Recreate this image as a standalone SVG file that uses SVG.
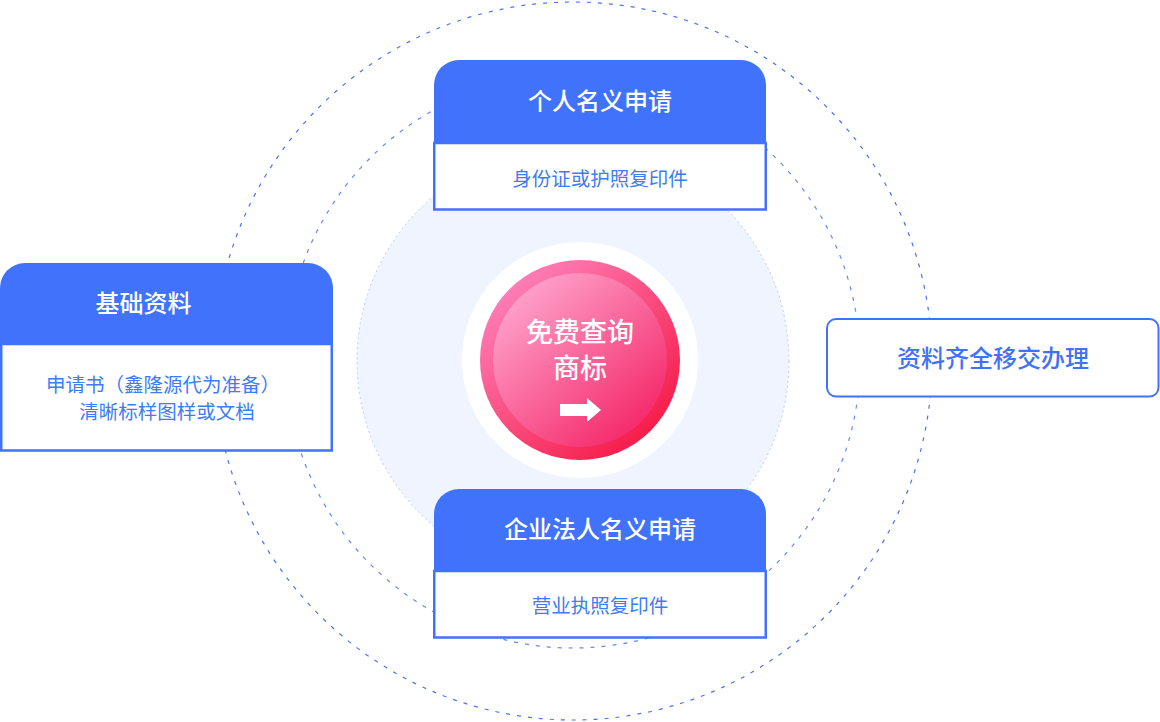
<svg xmlns="http://www.w3.org/2000/svg" width="1160" height="722" viewBox="0 0 1160 722">
<style>
text{font-family:"Noto Sans CJK SC","Noto Sans",sans-serif;text-anchor:middle}
.hd{fill:#ffffff;font-size:24px;font-weight:500}
.bd{fill:#3e7bf4;font-size:19.5px}
.hdr{fill:#4172fc}
.body{fill:#ffffff;stroke:#4172fc;stroke-width:2.5}
.ring{fill:none;stroke:#4a74f2;stroke-width:1.2;stroke-dasharray:4 7}
</style>
<defs>
<linearGradient id="pinkOuter" x1="0.15" y1="0.1" x2="0.85" y2="0.9">
<stop offset="0" stop-color="#ff7fb8"/>
<stop offset="1" stop-color="#f51a47"/>
</linearGradient>
<linearGradient id="pinkInner" x1="0.15" y1="0.1" x2="0.85" y2="0.9">
<stop offset="0" stop-color="#fea2ca"/>
<stop offset="1" stop-color="#f5286a"/>
</linearGradient>
</defs>
<g id="background">
<circle cx="573" cy="361" r="359" class="ring"/>
<circle cx="573" cy="361" r="287" class="ring" stroke-opacity="0.85"/>
<circle cx="573" cy="361" r="216" fill="#eff4ff" stroke="#b9cbf7" stroke-width="1" stroke-dasharray="2 3"/>
</g>
<g id="connectors"></g>
<g id="center">
<circle cx="580" cy="360" r="118" fill="#ffffff"/>
<circle cx="580" cy="360" r="100" fill="url(#pinkOuter)"/>
<circle cx="580" cy="360" r="87" fill="url(#pinkInner)"/>
<text x="580" y="342" fill="#ffffff" font-size="27" font-weight="500">免费查询</text>
<text x="580" y="378" fill="#ffffff" font-size="27" font-weight="500">商标</text>
<path d="M560 404 H587 V398 L601 410 L587 422 V416 H560 Z" fill="#ffffff"/>
</g>
<g id="personal">
<path d="M434 143 V85 A25 25 0 0 1 459 60 H741 A25 25 0 0 1 766 85 V143 Z" class="hdr"/>
<rect x="434.25" y="143" width="331.5" height="66.5" class="body"/>
<text x="600" y="110" class="hd">个人名义申请</text>
<text x="600" y="186" class="bd">身份证或护照复印件</text>
</g>
<g id="basic">
<path d="M0 344 V288 A25 25 0 0 1 25 263 H308 A25 25 0 0 1 333 288 V344 Z" class="hdr"/>
<rect x="1.25" y="344" width="330.5" height="106.5" class="body"/>
<text x="143.5" y="312" class="hd">基础资料</text>
<text x="163" y="392" class="bd">申请书（鑫隆源代为准备）</text>
<text x="167" y="419" class="bd">清晰标样图样或文档</text>
</g>
<g id="enterprise">
<path d="M434 571 V514 A25 25 0 0 1 459 489 H741 A25 25 0 0 1 766 514 V571 Z" class="hdr"/>
<rect x="434.25" y="571" width="331.5" height="66.5" class="body"/>
<text x="600" y="538" class="hd">企业法人名义申请</text>
<text x="600" y="613" class="bd">营业执照复印件</text>
</g>
<g id="handover">
<rect x="827" y="319" width="331.5" height="77.5" rx="9" fill="#ffffff" stroke="#4172fc" stroke-width="2"/>
<text x="993" y="367" fill="#3f72f6" font-size="24" font-weight="500">资料齐全移交办理</text>
</g>
</svg>
